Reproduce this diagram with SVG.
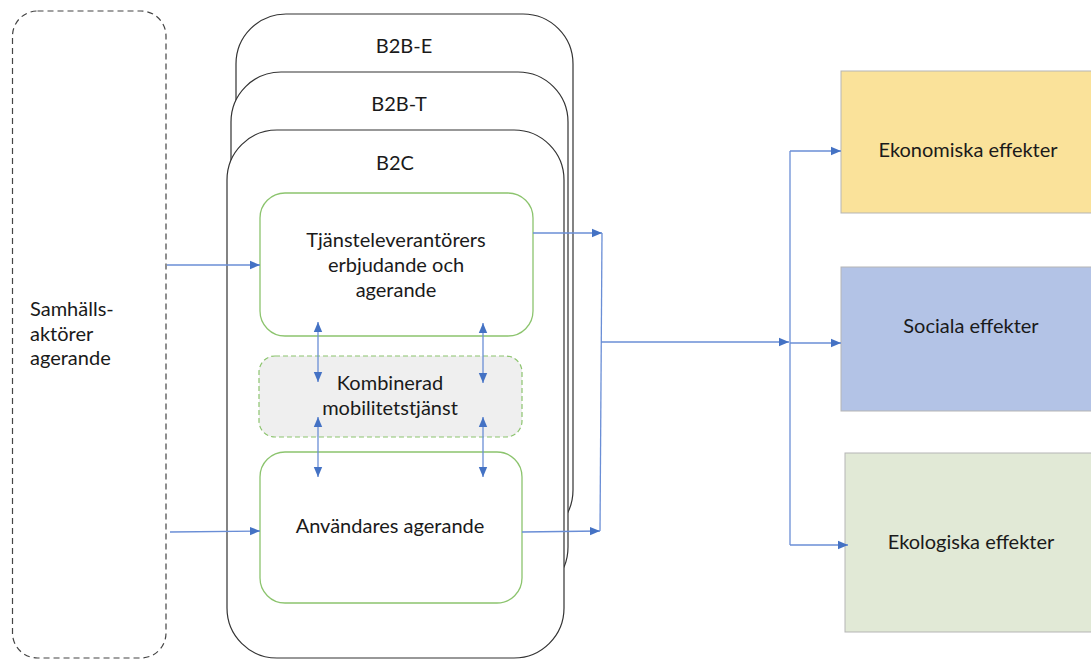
<svg xmlns="http://www.w3.org/2000/svg" width="1091" height="659" viewBox="0 0 1091 659">
  <defs>
    <marker id="arr" viewBox="0 0 10 10" refX="10" refY="5" markerWidth="10" markerHeight="10" markerUnits="userSpaceOnUse" orient="auto-start-reverse">
      <path d="M0,0.8 L10,5 L0,9.2 Z" fill="#4472c4"/>
    </marker>
  </defs>
  <style>
    text { font-family: Lato, "Liberation Sans", sans-serif; font-size: 20px; fill: #1a1a1a; }
    .mid { text-anchor: middle; }
    .card { fill: #ffffff; stroke: #333333; stroke-width: 1.2; }
    .green { fill: #ffffff; stroke: #8cc46e; stroke-width: 1.3; }
    .dashgreen { fill: #efefef; stroke: #8cc46e; stroke-width: 1.2; stroke-dasharray: 5 3; }
    .effect { stroke: #b5b5b5; stroke-width: 1; }
    .conn { fill: none; stroke: #6a8ed6; stroke-width: 1.3; }
  </style>

  <!-- societal actors -->
  <g id="samhall">
    <rect x="12.5" y="11" width="153.5" height="647" rx="25" fill="none" stroke="#444" stroke-width="1.2" stroke-dasharray="6 4"/>
    <text x="30" y="316">Samhälls-</text>
    <text x="30" y="341">aktörer</text>
    <text x="30" y="365">agerande</text>
  </g>

  <!-- stacked business-model cards -->
  <g id="b2b-e">
    <rect class="card" x="236" y="14" width="337" height="526" rx="50"/>
    <text class="mid" x="404" y="53">B2B-E</text>
  </g>
  <g id="b2b-t">
    <rect class="card" x="231" y="72" width="337" height="525" rx="50"/>
    <text class="mid" x="399" y="111">B2B-T</text>
  </g>
  <g id="b2c">
    <rect class="card" x="227" y="130" width="337" height="528" rx="50"/>
    <text class="mid" x="395" y="170">B2C</text>
  </g>

  <g id="tjanst">
    <rect class="green" x="260" y="193" width="273" height="143" rx="25"/>
    <text class="mid" x="396" y="247">Tjänsteleverantörers</text>
    <text class="mid" x="396" y="272">erbjudande och</text>
    <text class="mid" x="396" y="297">agerande</text>
  </g>
  <g id="kombinerad">
    <rect class="dashgreen" x="259" y="356" width="263" height="81" rx="16"/>
    <text class="mid" x="390" y="390">Kombinerad</text>
    <text class="mid" x="390" y="415">mobilitetstjänst</text>
  </g>
  <g id="anvandare">
    <rect class="green" x="260" y="452" width="262" height="151" rx="25"/>
    <text class="mid" x="390" y="533">Användares agerande</text>
  </g>

  <!-- effects -->
  <g id="ekonomiska">
    <rect class="effect" x="841" y="71" width="251" height="142" fill="#fae29a"/>
    <text class="mid" x="968" y="157">Ekonomiska effekter</text>
  </g>
  <g id="sociala">
    <rect class="effect" x="841" y="267" width="251" height="144" fill="#b3c3e6"/>
    <text class="mid" x="971" y="333">Sociala effekter</text>
  </g>
  <g id="ekologiska">
    <rect class="effect" x="845" y="453" width="247" height="179" fill="#e1e9d6"/>
    <text class="mid" x="971" y="549">Ekologiska effekter</text>
  </g>

  <!-- connectors -->
  <g id="connectors">
    <line class="conn" x1="167" y1="265" x2="260" y2="265" marker-end="url(#arr)"/>
    <line class="conn" x1="170" y1="532" x2="260" y2="531" marker-end="url(#arr)"/>

    <line class="conn" x1="318" y1="322" x2="318" y2="382" marker-start="url(#arr)" marker-end="url(#arr)"/>
    <line class="conn" x1="483" y1="323" x2="483" y2="383" marker-start="url(#arr)" marker-end="url(#arr)"/>
    <line class="conn" x1="318" y1="417" x2="318" y2="477" marker-start="url(#arr)" marker-end="url(#arr)"/>
    <line class="conn" x1="483" y1="417" x2="483" y2="477" marker-start="url(#arr)" marker-end="url(#arr)"/>

    <line class="conn" x1="533" y1="233" x2="602" y2="233" marker-end="url(#arr)"/>
    <line class="conn" x1="522" y1="532" x2="600" y2="531" marker-end="url(#arr)"/>
    <line class="conn" x1="602" y1="233" x2="600" y2="531"/>
    <line class="conn" x1="601" y1="342" x2="789" y2="342" marker-end="url(#arr)"/>

    <line class="conn" x1="790" y1="151" x2="790" y2="545"/>
    <line class="conn" x1="790" y1="151" x2="841" y2="151" marker-end="url(#arr)"/>
    <line class="conn" x1="790" y1="343" x2="841" y2="343" marker-end="url(#arr)"/>
    <line class="conn" x1="790" y1="545" x2="848" y2="545" marker-end="url(#arr)"/>
  </g>
</svg>
